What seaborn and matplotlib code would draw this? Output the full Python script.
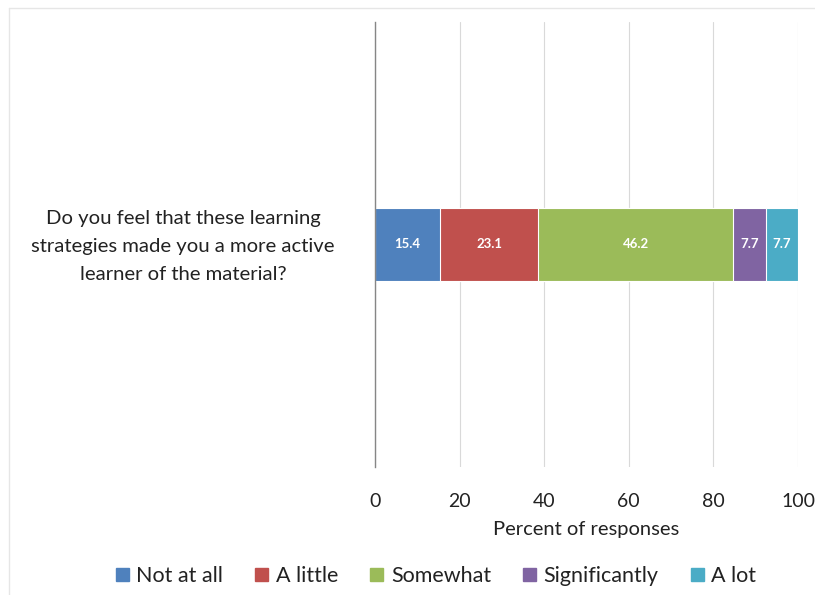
import matplotlib
matplotlib.use("Agg")
import matplotlib.pyplot as plt
import matplotlib.transforms as mtransforms
import seaborn as sns
import pandas as pd
import numpy as np

# Survey question and response distribution (percent)
question = "Do you feel that these learning\nstrategies made you a more active\nlearner of the material?"
responses = ["Not at all", "A little", "Somewhat", "Significantly", "A lot"]
percents = [15.4, 23.1, 46.2, 7.7, 7.7]
colors = ["#4F81BD", "#C0504D", "#9BBB59", "#8064A2", "#4BACC6"]
x_ticks = [0, 20, 40, 60, 80, 100]
x_label = "Percent of responses"

sns.set_theme(style="white")
plt.rcParams["font.family"] = ["Lato", "DejaVu Sans"]

fig = plt.figure(figsize=(8.15, 5.95), dpi=100)
ax = fig.add_axes([375 / 815, 1 - 467 / 595, (798 - 375) / 815, (467 - 22) / 595])

# Cumulative left edges for the stacked segments
lefts = np.concatenate([[0], np.cumsum(percents)[:-1]])
df = pd.DataFrame({"question": [question] * len(responses),
                   "response": responses,
                   "value": np.cumsum(percents)})

# Draw from the widest cumulative bar down so each segment shows
for i in range(len(responses) - 1, -1, -1):
    sub = df.iloc[[i]]
    sns.barplot(data=sub, x="value", y="question", color=colors[i],
                width=0.166, ax=ax, orient="h", saturation=1,
                edgecolor="white", linewidth=0.8, label=responses[i],
                legend=False)
if ax.get_legend() is not None:
    ax.get_legend().remove()

for left, val in zip(lefts, percents):
    ax.text(left + val / 2, 0, f"{val}", ha="center", va="center",
            color="white", fontsize=9.5, fontweight="bold")

ax.set_xlim(0, 100)
ax.set_ylim(0.5, -0.5)
ax.set_xticks(x_ticks)
ax.set_xticklabels([str(t) for t in x_ticks], fontsize=14, color="#222222")
ax.set_xlabel(x_label, fontsize=14.5, color="#222222", labelpad=8)
ax.set_ylabel("")
ax.tick_params(axis="x", length=0, pad=19)
ax.tick_params(axis="y", length=0, pad=29)
nudge_up = mtransforms.ScaledTranslation(0, 5 / 100, fig.dpi_scale_trans)
for lbl in ax.get_yticklabels():
    lbl.set_fontsize(14.6)
    lbl.set_color("#222222")
    lbl.set_multialignment("center")
    lbl.set_linespacing(1.8)
    lbl.set_transform(lbl.get_transform() + nudge_up)

ax.grid(axis="x", color="#D9D9D9", linewidth=0.8)
ax.set_axisbelow(True)
for side in ["top", "right", "bottom"]:
    ax.spines[side].set_visible(False)
ax.spines["left"].set_color("#868686")
ax.spines["left"].set_linewidth(1.0)

# Legend along the bottom, in response order
handles = [plt.Rectangle((0, 0), 1, 1, color=c) for c in colors]
leg = fig.legend(handles, responses,
                 loc="center", bbox_to_anchor=(436 / 815, 1 - 576 / 595),
                 ncol=5, frameon=False, fontsize=15.5, handlelength=0.6,
                 handleheight=0.6, handletextpad=0.35, columnspacing=1.5)
for t in leg.get_texts():
    t.set_color("#222222")

# Light frame around the chart area
fig.add_artist(plt.Line2D([9 / 815, 1], [1 - 8 / 595] * 2, color="#E6E6E6",
                          linewidth=1, transform=fig.transFigure))
fig.add_artist(plt.Line2D([9 / 815] * 2, [0, 1 - 8 / 595], color="#E6E6E6",
                          linewidth=1, transform=fig.transFigure))

fig.savefig("out.png", dpi=100)
